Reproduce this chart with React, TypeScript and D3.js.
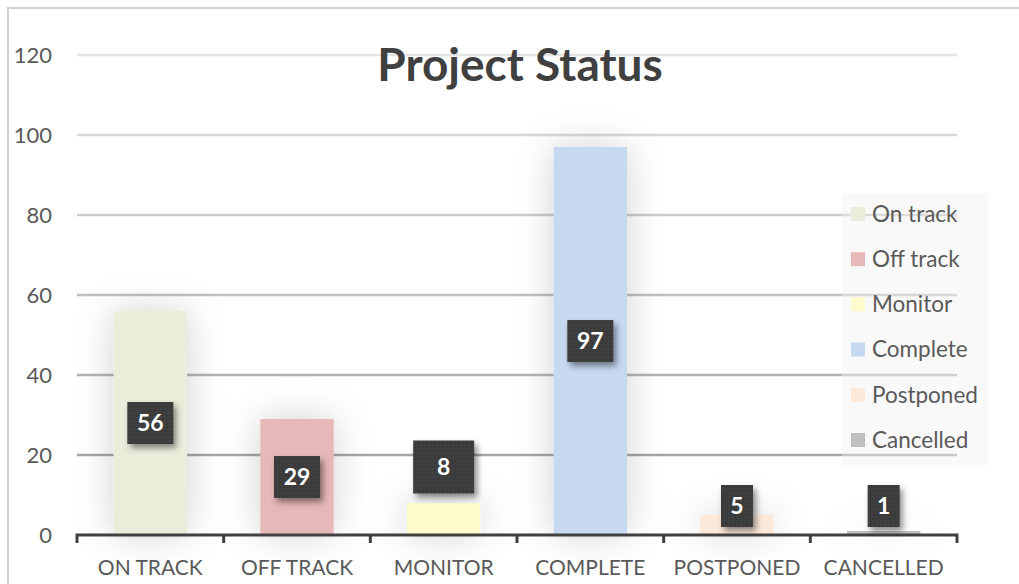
import React from "react";
import * as d3 from "d3";

const W = 1019;
const H = 584;
const margin = { top: 55, left: 77, right: 62, axisY: 535 };

const categories = ["ON TRACK", "OFF TRACK", "MONITOR", "COMPLETE", "POSTPONED", "CANCELLED"];
const legendNames = ["On track", "Off track", "Monitor", "Complete", "Postponed", "Cancelled"];
const values = [56, 29, 8, 97, 5, 1];
const colors = ["#e9eedb", "#e6b8b7", "#fffacc", "#c6d9f1", "#fde9d9", "#bfbfbf"];
const yTicks = [0, 20, 40, 60, 80, 100, 120];

// the MONITOR label was dragged and resized by hand in the original
const labelOverride: Record<string, { w: number; h: number; cy: number }> = {
  MONITOR: { w: 61, h: 53, cy: 467 },
};

export default function App() {
  const x = d3
    .scaleBand()
    .domain(categories)
    .range([margin.left, W - margin.right])
    .paddingInner(0.5)
    .paddingOuter(0.25);
  const y = d3.scaleLinear().domain([0, 120]).range([margin.axisY, margin.top]);
  const gridColor = d3.scaleLinear<string>().domain([0, 120]).range(["#9a9a9a", "#e4e4e4"]);

  const tickXs = categories.map((c) => (x(c) as number) - (x.step() * x.paddingInner()) / 2);
  tickXs.push(W - margin.right);

  return (
    <svg width={W} height={H} style={{ position: "absolute", left: 0, top: 0 }}>
      <defs>
        <pattern id="dots" width="4" height="4" patternUnits="userSpaceOnUse">
          <rect width="4" height="4" fill="#3a3a3a" />
          <circle cx="1" cy="1" r="0.6" fill="#5a5a5a" />
        </pattern>
        <filter id="boxShadow" x="-50%" y="-50%" width="200%" height="200%">
          <feDropShadow dx="3" dy="4" stdDeviation="3" floodColor="#000" floodOpacity="0.45" />
        </filter>
        <filter id="haze" x="-100%" y="-50%" width="300%" height="200%">
          <feDropShadow dx="0" dy="0" stdDeviation="18" floodColor="#000" floodOpacity="0.18" />
        </filter>
      </defs>
      <rect x={0} y={0} width={W} height={H} fill="#fff" />
      <rect x={8} y={8} width={W + 10} height={H + 10} fill="none" stroke="#d0d0d0" strokeWidth={2} />

      {yTicks.map((t) => (
        <g key={t}>
          {t > 0 && (
            <line
              x1={margin.left}
              x2={W - margin.right}
              y1={y(t)}
              y2={y(t)}
              stroke={gridColor(t)}
              strokeWidth={2.5}
            />
          )}
          <text
            x={52}
            y={y(t)}
            dy="0.35em"
            textAnchor="end"
            fontFamily="Lato, sans-serif"
            fontSize={22}
            fill="#595959"
          >
            {t}
          </text>
        </g>
      ))}

      <text
        x={520}
        y={65}
        dy="0.35em"
        textAnchor="middle"
        fontFamily="Lato, sans-serif"
        fontWeight="bold"
        fontSize={46}
        fill="#404040"
      >
        Project Status
      </text>

      <g filter="url(#haze)">
        {categories.map((c, i) => (
          <rect
            key={c}
            x={x(c)}
            y={y(values[i])}
            width={x.bandwidth()}
            height={y(0) - y(values[i])}
            fill={colors[i]}
          />
        ))}
      </g>

      <g>
        <rect x={842} y={193} width={146} height={272} fill="#f2f2f2" opacity={0.45} />
        {legendNames.map((n, i) => {
          const cy = 214 + i * 45.2;
          return (
            <g key={n}>
              <rect x={851} y={cy - 7} width={14} height={14} fill={colors[i]} />
              <text
                x={872}
                y={cy}
                dy="0.35em"
                fontFamily="Lato, sans-serif"
                fontSize={22.5}
                fill="#595959"
              >
                {n}
              </text>
            </g>
          );
        })}
      </g>

      <path
        d={
          `M${tickXs[0]},${margin.axisY + 8}V${margin.axisY}H${tickXs[tickXs.length - 1]}V${margin.axisY + 8}` +
          tickXs
            .slice(1, -1)
            .map((t) => `M${t},${margin.axisY}V${margin.axisY + 8}`)
            .join("")
        }
        fill="none"
        stroke="#404040"
        strokeWidth={3}
      />

      {categories.map((c) => (
        <text
          key={c}
          x={(x(c) as number) + x.bandwidth() / 2}
          y={568}
          dy="0.35em"
          textAnchor="middle"
          fontFamily="Lato, sans-serif"
          fontSize={21}
          fill="#595959"
        >
          {c}
        </text>
      ))}

      {categories.map((c, i) => {
        const label = String(values[i]);
        const o = labelOverride[c];
        const w = o ? o.w : label.length > 1 ? 46 : 32;
        const h = o ? o.h : 42;
        const mid = (y(values[i]) + y(0)) / 2;
        const cy = o ? o.cy : Math.min(mid, margin.axisY - 8 - h / 2);
        const cx = (x(c) as number) + x.bandwidth() / 2;
        return (
          <g key={c}>
            <rect x={cx - w / 2} y={cy - h / 2} width={w} height={h} fill="url(#dots)" filter="url(#boxShadow)" />
            <text
              x={cx}
              y={cy}
              dy="0.36em"
              textAnchor="middle"
              fontFamily="Lato, sans-serif"
              fontWeight="bold"
              fontSize={23}
              fill="#fff"
            >
              {label}
            </text>
          </g>
        );
      })}
    </svg>
  );
}
